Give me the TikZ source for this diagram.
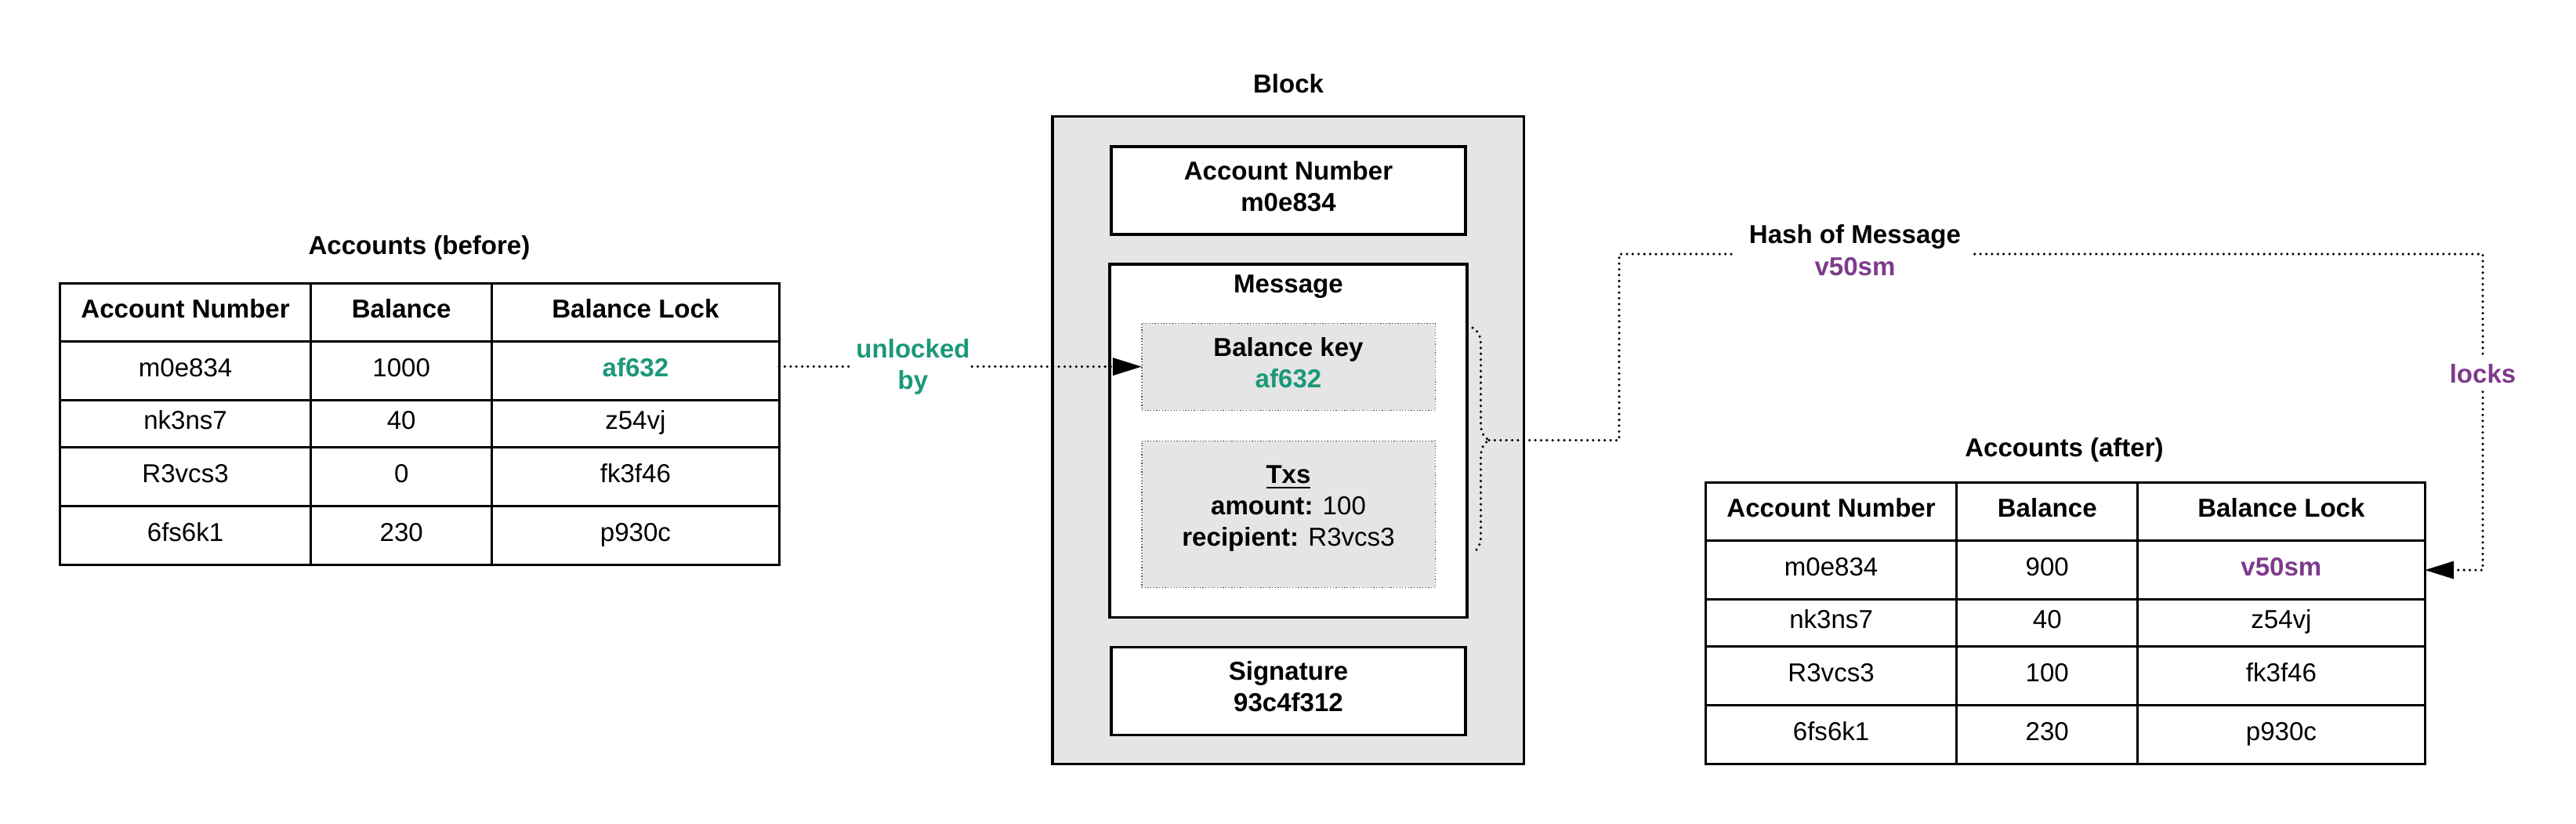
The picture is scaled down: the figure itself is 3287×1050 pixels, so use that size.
\documentclass[tikz,border=0pt]{standalone}
\usepackage{fontspec}
\setmainfont{Liberation Sans}
\usetikzlibrary{positioning,matrix,arrows.meta,decorations.pathreplacing}
\definecolor{keygreen}{RGB}{27,152,121}
\definecolor{hashpurple}{RGB}{126,58,140}
\definecolor{blockgray}{RGB}{229,229,229}
\tikzstyle{cell}=[rectangle, draw=black, line width=0.85pt, outer sep=0pt, inner sep=0pt, minimum height=0.75cm, text height=0.72em, text depth=0.3em]
\tikzstyle{accounts}=[matrix of nodes, inner sep=0pt, outer sep=0pt, column sep=-0.85pt, row sep=-0.85pt, nodes={cell}, column 1/.style={nodes={minimum width=3.2cm}}, column 2/.style={nodes={minimum width=2.31cm}}, column 3/.style={nodes={minimum width=3.66cm}}, row 1/.style={nodes={font=\bfseries, minimum height=0.74cm}}, row 3/.style={nodes={minimum height=0.6cm}}]
\tikzstyle{blockbox}=[rectangle, draw=black, line width=0.95pt, fill=blockgray, outer sep=0pt, minimum width=6.01cm, minimum height=8.25cm]
\tikzstyle{whitebox}=[rectangle, draw=black, line width=0.95pt, fill=white, outer sep=0pt, minimum width=4.52cm, minimum height=1.12cm, align=center, font=\bfseries, text depth=0.35em]
\tikzstyle{keybox}=[rectangle, draw=black!70, line width=0.35pt, dash pattern=on 0.35pt off 0.7pt, fill=blockgray, outer sep=0pt, minimum width=3.74cm, align=center, font=\bfseries, text depth=0.3em]
\tikzstyle{headtext}=[font=\bfseries, align=center]
\tikzstyle{dotline}=[line width=1pt, dash pattern=on 0pt off 2.1pt, line cap=round]
\tikzstyle{arrowtip}=[-{Triangle[length=0.37cm,width=0.22cm]}]

\begin{document}
\fontsize{9.4pt}{11.4pt}\selectfont
\begin{tikzpicture}[x=0.01cm, y=-0.01cm]
\useasboundingbox (0,0) rectangle (3287,1050);

\node[headtext](beforetitle) at (535,316){Accounts (before)};
\matrix[accounts, anchor=north west](before) at (75,360){
Account Number & Balance & Balance Lock \\
m0e834 & 1000 & |[text=keygreen, font=\bfseries]| af632 \\
nk3ns7 & 40 & z54vj \\
R3vcs3 & 0 & fk3f46 \\
6fs6k1 & 230 & p930c \\
};

\node[headtext](aftertitle) at (2634,574){Accounts (after)};
\matrix[accounts, anchor=north west](after) at (2175,614){
Account Number & Balance & Balance Lock \\
m0e834 & 900 & |[text=hashpurple, font=\bfseries]| v50sm \\
nk3ns7 & 40 & z54vj \\
R3vcs3 & 100 & fk3f46 \\
6fs6k1 & 230 & p930c \\
};

\node[headtext](blocktitle) at (1644,107){Block};
\node[blockbox](block) at (1643.5,561.5){};
\node[whitebox](accnum) at (1644,243){Account Number\\m0e834};
\node[whitebox, minimum width=4.56cm, minimum height=4.5cm](message)[below=0.38cm of accnum]{};
\node[headtext](msglabel)[below=0.02cm of message.north]{Message};
\node[keybox, minimum height=1.11cm](balancekey)[below=0.75cm of message.north]{Balance key\\\textcolor{keygreen}{af632}};
\node[keybox, minimum height=1.87cm, text depth=0.62em](txs)[below=0.39cm of balancekey]{\underline{Txs}\\amount: {\mdseries 100}\\recipient: {\mdseries R3vcs3}};
\node[whitebox](signature)[below=0.38cm of message]{Signature\\93c4f312};

\draw[dotline, decorate, decoration={brace, amplitude=0.21cm}] (1879,418) -- (1879,705);
\coordinate (bracetip) at (1900,561.5);

\node[headtext, text=keygreen, inner xsep=0.02cm](unlocked) at (1165,467.5){unlocked\\by};
\draw[dotline] (unlocked.west -| before-2-3.east) -- (unlocked.west);
\draw[dotline, arrowtip] (unlocked.east) -- (balancekey.west);

\node[headtext, inner xsep=0.17cm, text depth=0.3em](hash) at (2367,324){Hash of Message\\\textcolor{hashpurple}{v50sm}};
\node[headtext, text=hashpurple, inner ysep=0.1cm](locks) at (3168,477){locks};
\draw[dotline] (bracetip) -- ++(166,0) |- (hash.west);
\draw[dotline] (hash.east) -| (locks.north);
\draw[dotline, arrowtip] (locks.south) |- (after-2-3.east);

\end{tikzpicture}
\end{document}
